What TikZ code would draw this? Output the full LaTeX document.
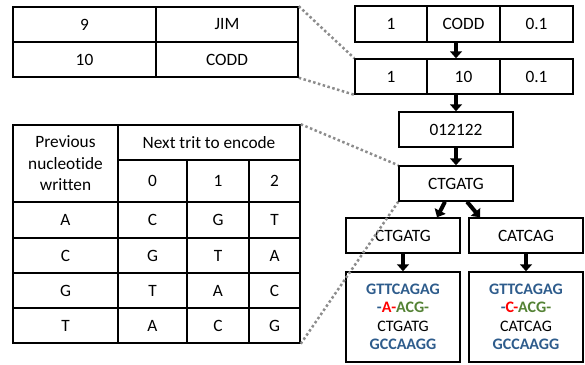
\documentclass[tikz,border=0pt]{standalone}
\usepackage{fontspec}
\setmainfont{Carlito}[Ligatures=NoCommon]
\usetikzlibrary{arrows.meta}
\definecolor{seqblue}{RGB}{46,92,140}
\definecolor{markred}{RGB}{255,0,0}
\definecolor{markgreen}{RGB}{84,130,53}
\definecolor{linkgray}{RGB}{140,140,140}
\begin{document}
\begin{tikzpicture}[x=1pt,y=-1pt,
    cell/.style={draw,line width=1.5pt,inner sep=0pt,align=center,
      font=\fontsize{17.3}{21.5}\selectfont},
    flow/.style={line width=4pt,-{Triangle[width=12pt,length=7pt]}},
    link/.style={draw=linkgray,line width=2.5pt,dash pattern=on 2.5pt off 2.5pt}]
  \useasboundingbox (0,0) rectangle (585,364);
  % name table
  \node[cell,minimum width=143pt,minimum height=35pt] (a1) at (84.5,24.5) {9};
  \node[cell,minimum width=142pt,minimum height=35pt] (a2) at (227,24.5) {JIM};
  \node[cell,minimum width=143pt,minimum height=35pt] (b1) at (84.5,59.5) {10};
  \node[cell,minimum width=142pt,minimum height=35pt] (b2) at (227,59.5) {CODD};
  % records
  \node[cell,minimum width=72pt,minimum height=36pt] (r1a) at (391,24) {1};
  \node[cell,minimum width=73pt,minimum height=36pt] (r1b) at (463.5,24) {CODD};
  \node[cell,minimum width=73pt,minimum height=36pt] (r1c) at (536.5,24) {0.1};
  \node[cell,minimum width=72pt,minimum height=35pt] (r2a) at (391,76.5) {1};
  \node[cell,minimum width=73pt,minimum height=35pt] (r2b) at (463.5,76.5) {10};
  \node[cell,minimum width=73pt,minimum height=35pt] (r2c) at (536.5,76.5) {0.1};
  \node[cell,minimum width=114pt,minimum height=35pt] (trit) at (456,129.5) {012122};
  \node[cell,minimum width=114pt,minimum height=35pt] (seq) at (456,183.5) {CTGATG};
  \node[cell,minimum width=114pt,minimum height=35pt] (lbr) at (403,235.5) {CTGATG};
  \node[cell,minimum width=114pt,minimum height=35pt] (rbr) at (526,235.5) {CATCAG};
  \node[cell,minimum width=114pt,minimum height=90pt,font=\fontsize{16}{18.5}\selectfont] (lres) at (403,317)
    {\textbf{\textcolor{seqblue}{GTTCAGAG}}\\
     \textbf{\textcolor{seqblue}{-}\textcolor{markred}{A-}\textcolor{markgreen}{ACG-}}\\
     CTGATG\\
     \textbf{\textcolor{seqblue}{GCCAAGG}}};
  \node[cell,minimum width=114pt,minimum height=90pt,font=\fontsize{16}{18.5}\selectfont] (rres) at (526,317)
    {\textbf{\textcolor{seqblue}{GTTCAGAG}}\\
     \textbf{\textcolor{seqblue}{-}\textcolor{markred}{C-}\textcolor{markgreen}{ACG-}}\\
     CATCAG\\
     \textbf{\textcolor{seqblue}{GCCAAGG}}};
  % encoding table
  \node[cell,minimum width=105pt,minimum height=77pt] (prev) at (65.5,163.5) {Previous\\nucleotide\\written};
  \node[cell,minimum width=182pt,minimum height=35pt] (next) at (209,142.5) {Next trit to encode};
  \node[cell,minimum width=69pt,minimum height=42pt] (t0) at (152.5,181) {0};
  \node[cell,minimum width=62pt,minimum height=42pt] (t1) at (218,181) {1};
  \node[cell,minimum width=51pt,minimum height=42pt] (t2) at (274.5,181) {2};
  \node[cell,minimum width=105pt,minimum height=36pt] (pA) at (65.5,220) {A};
  \node[cell,minimum width=69pt,minimum height=36pt] (A0) at (152.5,220) {C};
  \node[cell,minimum width=62pt,minimum height=36pt] (A1) at (218,220) {G};
  \node[cell,minimum width=51pt,minimum height=36pt] (A2) at (274.5,220) {T};
  \node[cell,minimum width=105pt,minimum height=35pt] (pC) at (65.5,255.5) {C};
  \node[cell,minimum width=69pt,minimum height=35pt] (C0) at (152.5,255.5) {G};
  \node[cell,minimum width=62pt,minimum height=35pt] (C1) at (218,255.5) {T};
  \node[cell,minimum width=51pt,minimum height=35pt] (C2) at (274.5,255.5) {A};
  \node[cell,minimum width=105pt,minimum height=35pt] (pG) at (65.5,290.5) {G};
  \node[cell,minimum width=69pt,minimum height=35pt] (G0) at (152.5,290.5) {T};
  \node[cell,minimum width=62pt,minimum height=35pt] (G1) at (218,290.5) {A};
  \node[cell,minimum width=51pt,minimum height=35pt] (G2) at (274.5,290.5) {C};
  \node[cell,minimum width=105pt,minimum height=35pt] (pT) at (65.5,325.5) {T};
  \node[cell,minimum width=69pt,minimum height=35pt] (T0) at (152.5,325.5) {A};
  \node[cell,minimum width=62pt,minimum height=35pt] (T1) at (218,325.5) {C};
  \node[cell,minimum width=51pt,minimum height=35pt] (T2) at (274.5,325.5) {G};
  % arrows
  \draw[flow] (r1b.south -| trit.north) -- (r2b.north -| trit.north);
  \draw[flow] (r2b.south -| trit.north) -- (trit.north);
  \draw[flow] (trit.south) -- (seq.north);
  \draw[flow] ([xshift=-11pt]seq.south) -- ([xshift=34pt]lbr.north);
  \draw[flow] ([xshift=11pt]seq.south) -- ([xshift=-46pt]rbr.north);
  \draw[flow] (lbr.south) -- (lres.north);
  \draw[flow] (rbr.south) -- (rres.north);
  % zoom lines
  \draw[link] (a2.north east) -- (r2a.north west);
  \draw[link] (b2.south east) -- (r2a.south west);
  \draw[link] (next.north east) -- (seq.north west);
  \draw[link] (T2.south east) -- (seq.south west);
\end{tikzpicture}
\end{document}
